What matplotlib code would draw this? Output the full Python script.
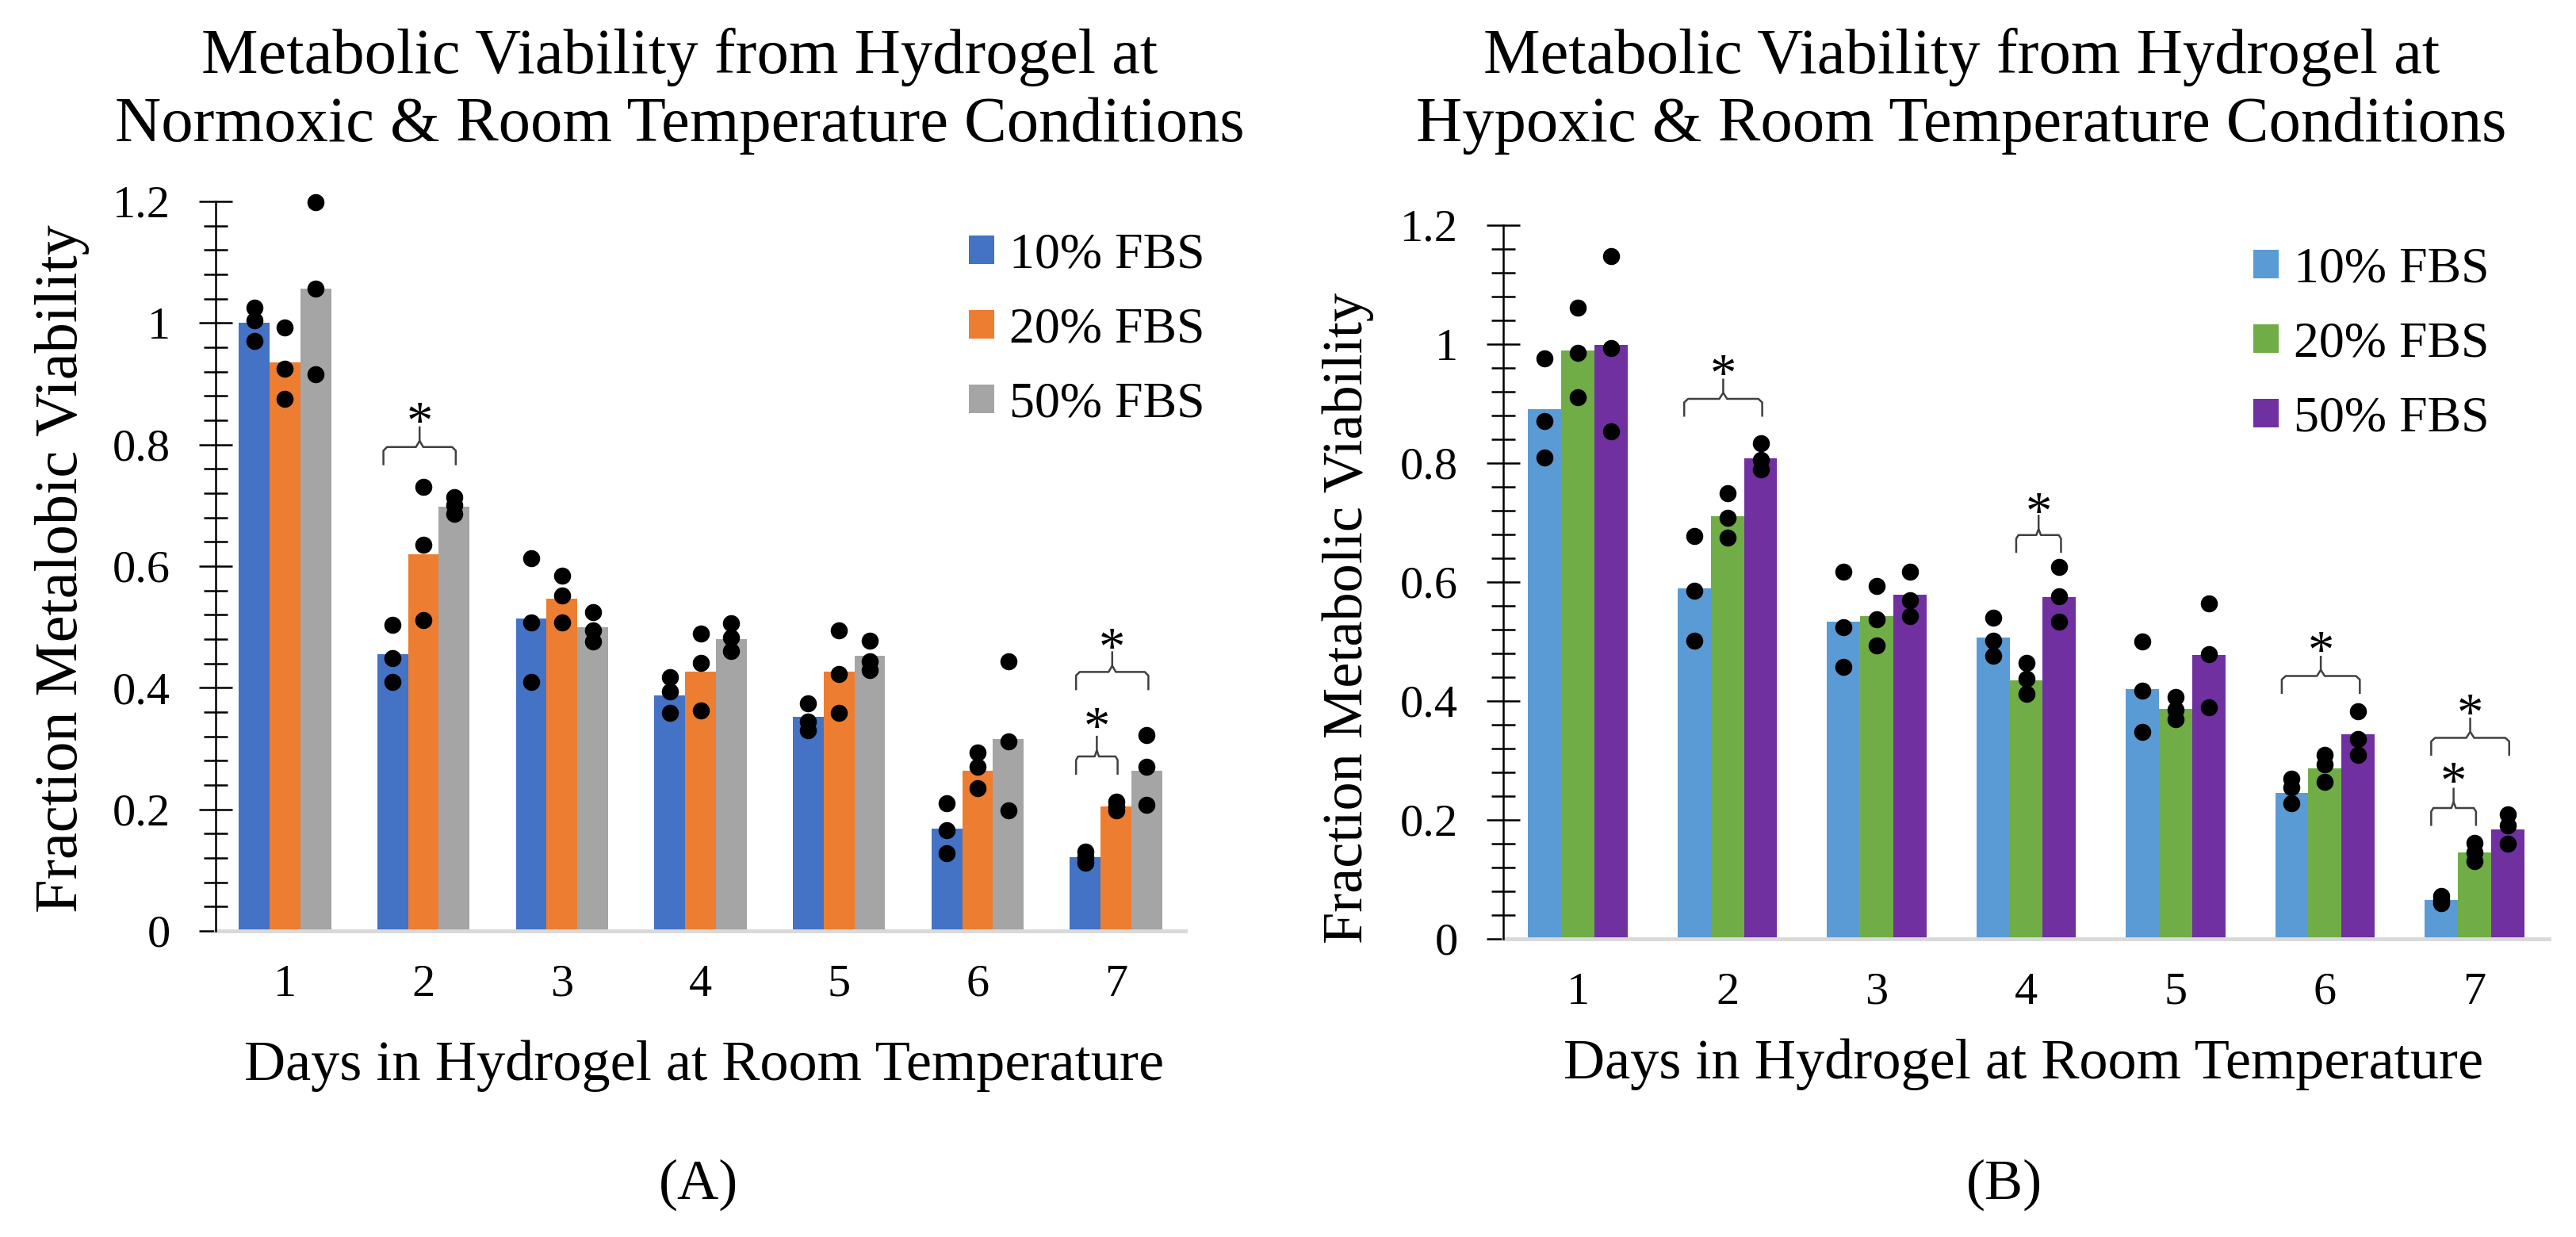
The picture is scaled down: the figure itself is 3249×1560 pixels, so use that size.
import numpy as np
import matplotlib
matplotlib.use("Agg")
import matplotlib.pyplot as plt
from matplotlib.patches import Patch
from matplotlib.ticker import MultipleLocator, FixedLocator, FixedFormatter

plt.rcParams['font.family'] = ['Liberation Serif', 'DejaVu Serif']

# ---------------- data ----------------
days = ["1", "2", "3", "4", "5", "6", "7"]
ytick_vals = [0, 0.2, 0.4, 0.6, 0.8, 1.0, 1.2]
ytick_labels = ["0", "0.2", "0.4", "0.6", "0.8", "1", "1.2"]
series_labels = ["10% FBS", "20% FBS", "50% FBS"]

# (A) normoxic
norm_10 = [1.000, 0.455, 0.514, 0.387, 0.352, 0.168, 0.121]
norm_20 = [0.935, 0.620, 0.546, 0.426, 0.426, 0.263, 0.205]
norm_50 = [1.057, 0.698, 0.500, 0.480, 0.452, 0.316, 0.263]
norm_10_pts = [[1.025, 1.005, 0.970], [0.503, 0.449, 0.409], [0.613, 0.508, 0.410],
               [0.417, 0.394, 0.359], [0.375, 0.345, 0.330], [0.210, 0.166, 0.128],
               [0.130, 0.121, 0.112]]
norm_20_pts = [[0.993, 0.925, 0.875], [0.730, 0.635, 0.511], [0.584, 0.552, 0.507],
               [0.489, 0.441, 0.363], [0.494, 0.423, 0.359], [0.294, 0.270, 0.235],
               [0.212, 0.205, 0.198]]
norm_50_pts = [[1.199, 1.057, 0.916], [0.714, 0.700, 0.686], [0.524, 0.494, 0.476],
               [0.506, 0.483, 0.460], [0.478, 0.443, 0.429], [0.443, 0.312, 0.198],
               [0.322, 0.270, 0.207]]
# significance brackets: (day index, from series, to series, level, star level)
norm_brackets = [(1, 0, 2, 0.796, 0.849), (6, 0, 2, 0.426, 0.478), (6, 0, 1, 0.287, 0.347)]

# (B) hypoxic
hyp_10 = [0.891, 0.589, 0.534, 0.507, 0.420, 0.246, 0.066]
hyp_20 = [0.989, 0.711, 0.543, 0.435, 0.387, 0.287, 0.146]
hyp_50 = [0.999, 0.808, 0.579, 0.575, 0.478, 0.344, 0.184]
hyp_10_pts = [[0.976, 0.871, 0.809], [0.677, 0.585, 0.502], [0.617, 0.524, 0.457],
              [0.540, 0.502, 0.476], [0.500, 0.417, 0.348], [0.270, 0.255, 0.228],
              [0.072, 0.066, 0.060]]
hyp_20_pts = [[1.062, 0.986, 0.911], [0.749, 0.708, 0.675], [0.593, 0.538, 0.493],
              [0.464, 0.438, 0.412], [0.407, 0.386, 0.369], [0.310, 0.293, 0.264],
              [0.162, 0.146, 0.131]]
hyp_50_pts = [[1.148, 0.993, 0.853], [0.834, 0.806, 0.789], [0.617, 0.569, 0.543],
              [0.625, 0.576, 0.533], [0.564, 0.479, 0.390], [0.383, 0.336, 0.310],
              [0.209, 0.191, 0.160]]
hyp_brackets = [(1, 0, 2, 0.908, 0.962), (3, 1, 2, 0.679, 0.730), (5, 0, 2, 0.442, 0.496),
                (6, 0, 1, 0.220, 0.276), (6, 0, 2, 0.338, 0.391)]

colors_A = ["#4472C4", "#ED7D31", "#A5A5A5"]
colors_B = ["#5B9BD5", "#70AD47", "#7030A0"]

# ---------------- figure ----------------
W, H = 3249, 1560
fig = plt.figure(figsize=(W / 100, H / 100), dpi=100)


def fx(px):
    return px / W


def fy(py):
    return 1 - py / H


axA = fig.add_axes([fx(272), fy(1174), 1223 / W, 920 / H])
axB = fig.add_axes([fx(1896), fy(1184), 1319 / W, 900 / H])

bw = 1 / 4.5
offs = [-bw, 0.0, bw]


def draw_panel(ax, means, pts, colors, brackets):
    x = np.arange(1, len(days) + 1)
    for m, p, c, o in zip(means, pts, colors, offs):
        ax.bar(x + o, m, width=bw, color=c, linewidth=0, zorder=2)
        px = np.repeat(x + o, [len(v) for v in p])
        py = np.concatenate([np.asarray(v) for v in p])
        ax.plot(px, py, 'o', color='black', ms=15.5, mew=0, zorder=4, clip_on=False)
    ax.set_xlim(0.5, len(days) + 0.5)
    ax.set_ylim(0, 1.2)
    ax.xaxis.set_major_locator(FixedLocator(x))
    ax.xaxis.set_major_formatter(FixedFormatter(days))
    ax.yaxis.set_major_locator(FixedLocator(ytick_vals))
    ax.yaxis.set_major_formatter(FixedFormatter(ytick_labels))
    ax.yaxis.set_minor_locator(MultipleLocator(0.04))
    ax.tick_params(axis='y', which='major', direction='inout', length=30, width=1.8,
                   pad=26, labelsize=42, color='black')
    ax.tick_params(axis='y', which='minor', direction='inout', length=22, width=1.8,
                   color='black')
    ax.tick_params(axis='x', which='both', length=0, pad=30, labelsize=42)
    for s in ['top', 'right']:
        ax.spines[s].set_visible(False)
    ax.spines['left'].set_color('black')
    ax.spines['left'].set_linewidth(1.8)
    ax.spines['bottom'].set_color('#D9D9D9')
    ax.spines['bottom'].set_linewidth(3.5)
    ax.spines['left'].set_zorder(3)

    drop, tick = 0.03, 0.034
    for d, s0, s1, h, sy in brackets:
        xc = d + 1
        x0 = xc + offs[s0] - 0.3 * bw
        x1 = xc + offs[s1] + 0.05 * bw
        xm = (x0 + x1) / 2
        r = (x1 - x0) * 0.05
        kw = dict(color='#404040', lw=1.8, zorder=5, solid_capstyle='butt')
        ax.plot([x0, x0, x0 + r, xm - r, xm, xm],
                [h - drop, h - 0.006, h, h, h + 0.3 * tick, h + tick], **kw)
        ax.plot([xm, xm + r, x1 - r, x1, x1],
                [h + 0.3 * tick, h, h, h - 0.006, h - drop], **kw)
        ax.annotate('*', xy=(xm, sy), xytext=(0, -21), textcoords='offset points',
                    ha='center', va='baseline', fontsize=48, color='black', zorder=5)


draw_panel(axA, [norm_10, norm_20, norm_50], [norm_10_pts, norm_20_pts, norm_50_pts],
           colors_A, norm_brackets)
draw_panel(axB, [hyp_10, hyp_20, hyp_50], [hyp_10_pts, hyp_20_pts, hyp_50_pts],
           colors_B, hyp_brackets)

# legends
for ax, cols, lx, ly in [(axA, colors_A, 1190, 262), (axB, colors_B, 2810, 280)]:
    handles = [Patch(facecolor=c, edgecolor='none') for c in cols]
    ax.legend(handles, series_labels, loc='upper left', bbox_to_anchor=(fx(lx), fy(ly)),
              bbox_transform=fig.transFigure, frameon=False, borderpad=0,
              handlelength=0.5, handleheight=0.48, handletextpad=0.3, labelspacing=0.56,
              prop={'size': 46})

# titles
fig.text(fx(857), fy(92), "Metabolic Viability from Hydrogel at", ha='center', va='baseline', fontsize=58)
fig.text(fx(857), fy(178), "Normoxic & Room Temperature Conditions", ha='center', va='baseline', fontsize=58)
fig.text(fx(2474), fy(92), "Metabolic Viability from Hydrogel at", ha='center', va='baseline', fontsize=58)
fig.text(fx(2474), fy(178), "Hypoxic & Room Temperature Conditions", ha='center', va='baseline', fontsize=58)

# axis labels
fig.text(fx(888), fy(1362), "Days in Hydrogel at Room Temperature", ha='center', va='baseline', fontsize=52)
fig.text(fx(2552), fy(1360), "Days in Hydrogel at Room Temperature", ha='center', va='baseline', fontsize=52)
fig.text(fx(79), fy(717), "Fraction Metalobic Viability", ha='center', va='center', rotation=90, fontsize=55)
fig.text(fx(1700), fy(780), "Fraction Metabolic Viability", ha='center', va='center', rotation=90, fontsize=52)

# panel letters
fig.text(fx(881), fy(1512), "(A)", ha='center', va='baseline', fontsize=52)
fig.text(fx(2528), fy(1512), "(B)", ha='center', va='baseline', fontsize=52)

fig.savefig("out.png", dpi=100, facecolor='white')
